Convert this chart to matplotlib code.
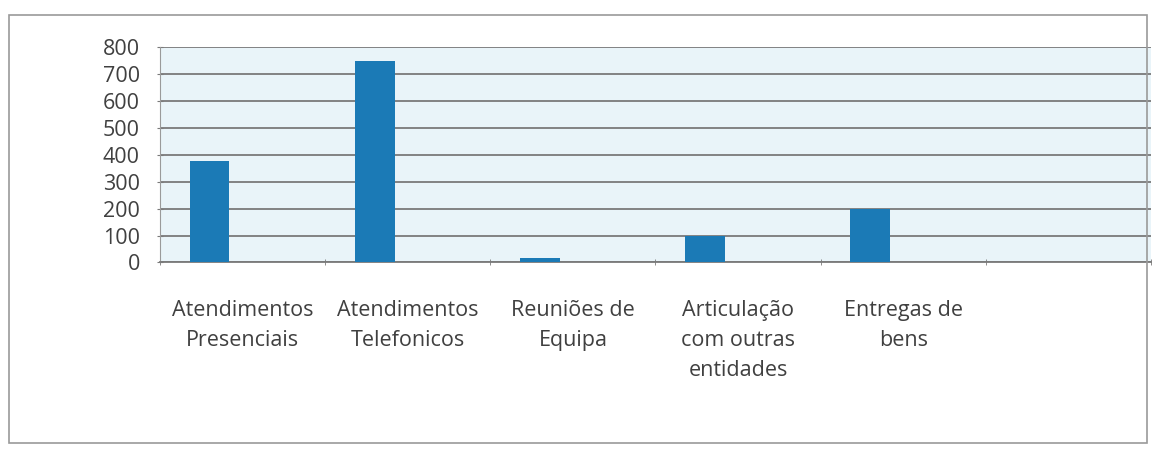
import matplotlib.pyplot as plt
from matplotlib.patches import Rectangle
import numpy as np

categories = ["Atendimentos\nPresenciais", "Atendimentos\nTelefonicos", "Reuniões de\nEquipa",
              "Articulação\ncom outras\nentidades", "Entregas de\nbens", ""]
values = [378, 748, 18, 100, 200, 0]
yticks = [0, 100, 200, 300, 400, 500, 600, 700, 800]

plt.rcParams['font.family'] = ['Open Sans', 'DejaVu Sans']

fig = plt.figure(figsize=(11.52, 4.51), dpi=100)
ax = fig.add_axes([0.139, 0.418, 0.860, 0.478])

# outer chart frame
fig.patches.append(Rectangle((0.008, 0.018), 0.988, 0.948, transform=fig.transFigure,
                             fill=False, edgecolor="#9a9a9a", linewidth=1.2))

x = np.arange(len(categories))
ax.set_facecolor("#e9f4f9")
ax.bar(x[:5] - 0.2, values[:5], width=0.24, color="#1b7ab6", zorder=3)

ax.set_xlim(-0.5, len(categories) - 0.5)
ax.set_ylim(0, 800)
ax.set_yticks(yticks)
ax.yaxis.grid(True, color="#7a7a7a", linewidth=1.3, zorder=1)
ax.set_axisbelow(True)

ax.set_xticks(x)
ax.set_xticklabels(categories, fontsize=15.5, color="#404040", linespacing=1.55)
ax.set_xticks(np.arange(-0.5, len(categories)), minor=True)
ax.tick_params(axis="x", which="major", length=0, pad=27)
ax.tick_params(axis="x", which="minor", length=5, color="#7a7a7a", direction="inout")
ax.tick_params(axis="y", length=5, color="#7a7a7a", direction="inout", labelsize=15.5,
               labelcolor="#404040", pad=12)

for side in ["top", "right"]:
    ax.spines[side].set_visible(False)
ax.spines["left"].set_color("#9a9a9a")
ax.spines["bottom"].set_color("#7a7a7a")
ax.spines["bottom"].set_linewidth(1.3)

fig.savefig("out.png", dpi=100)
